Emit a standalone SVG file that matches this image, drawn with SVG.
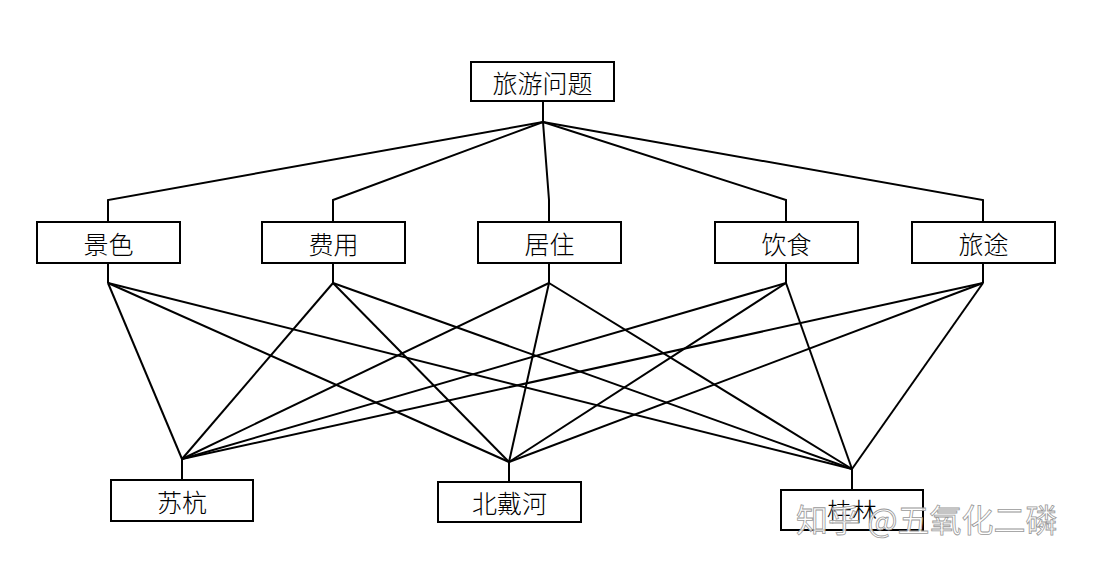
<svg xmlns="http://www.w3.org/2000/svg" width="1095" height="567" viewBox="0 0 1095 567">
<style>
.box{fill:#fff;stroke:#000;stroke-width:2}
.lbl{font-family:"Noto Sans CJK SC","Liberation Sans",sans-serif;font-size:25px;font-weight:300;fill:#000;text-anchor:middle;dominant-baseline:central}
.ln{stroke:#000;stroke-width:2;fill:none;stroke-linejoin:miter}
.wm{font-family:"Noto Sans CJK SC","Liberation Sans",sans-serif;font-size:32px;fill:#fff;fill-opacity:0.85;stroke:#999;stroke-width:0.8}
</style>
<rect width="1095" height="567" fill="#fff"/>
<g id="connectors">
<polyline class="ln" points="543,101 543,122"/>
<polyline class="ln" points="543,122 108,200 108,222"/>
<polyline class="ln" points="543,122 333,200 333,222"/>
<polyline class="ln" points="543,122 549,200 549,222"/>
<polyline class="ln" points="543,122 786,200 786,222"/>
<polyline class="ln" points="543,122 983,200 983,222"/>
<polyline class="ln" points="108,263 108,283"/>
<polyline class="ln" points="333,263 333,283"/>
<polyline class="ln" points="549,263 549,283"/>
<polyline class="ln" points="786,263 786,283"/>
<polyline class="ln" points="983,263 983,283"/>
<line class="ln" x1="108" y1="283" x2="182" y2="459"/>
<line class="ln" x1="108" y1="283" x2="509" y2="462"/>
<line class="ln" x1="108" y1="283" x2="852" y2="469"/>
<line class="ln" x1="333" y1="283" x2="182" y2="459"/>
<line class="ln" x1="333" y1="283" x2="509" y2="462"/>
<line class="ln" x1="333" y1="283" x2="852" y2="469"/>
<line class="ln" x1="549" y1="283" x2="182" y2="459"/>
<line class="ln" x1="549" y1="283" x2="509" y2="462"/>
<line class="ln" x1="549" y1="283" x2="852" y2="469"/>
<line class="ln" x1="786" y1="283" x2="182" y2="459"/>
<line class="ln" x1="786" y1="283" x2="509" y2="462"/>
<line class="ln" x1="786" y1="283" x2="852" y2="469"/>
<line class="ln" x1="983" y1="283" x2="182" y2="459"/>
<line class="ln" x1="983" y1="283" x2="509" y2="462"/>
<line class="ln" x1="983" y1="283" x2="852" y2="469"/>
<polyline class="ln" points="182,459 182,480"/>
<polyline class="ln" points="509,462 509,482"/>
<polyline class="ln" points="852,469 852,490"/>
</g>
<g id="n-top"><rect class="box" x="471" y="62" width="143" height="39"/><text class="lbl" x="542.5" y="81.5">旅游问题</text></g>
<g id="n-jingse"><rect class="box" x="37" y="222" width="143" height="41"/><text class="lbl" x="108.5" y="242.5">景色</text></g>
<g id="n-feiyong"><rect class="box" x="262" y="222" width="143" height="41"/><text class="lbl" x="333.5" y="242.5">费用</text></g>
<g id="n-juzhu"><rect class="box" x="478" y="222" width="143" height="41"/><text class="lbl" x="549.5" y="242.5">居住</text></g>
<g id="n-yinshi"><rect class="box" x="715" y="222" width="143" height="41"/><text class="lbl" x="786.5" y="242.5">饮食</text></g>
<g id="n-lvtu"><rect class="box" x="912" y="222" width="143" height="41"/><text class="lbl" x="983.5" y="242.5">旅途</text></g>
<g id="n-suhang"><rect class="box" x="111" y="480" width="142" height="41"/><text class="lbl" x="182" y="500.5">苏杭</text></g>
<g id="n-beidaihe"><rect class="box" x="438" y="482" width="143" height="40"/><text class="lbl" x="509.5" y="502">北戴河</text></g>
<g id="n-guilin"><rect class="box" x="781" y="490" width="142" height="40"/><text class="lbl" x="852" y="510">桂林</text></g>
<text class="wm" x="796" y="532">知乎 @五氧化二磷</text>
</svg>
